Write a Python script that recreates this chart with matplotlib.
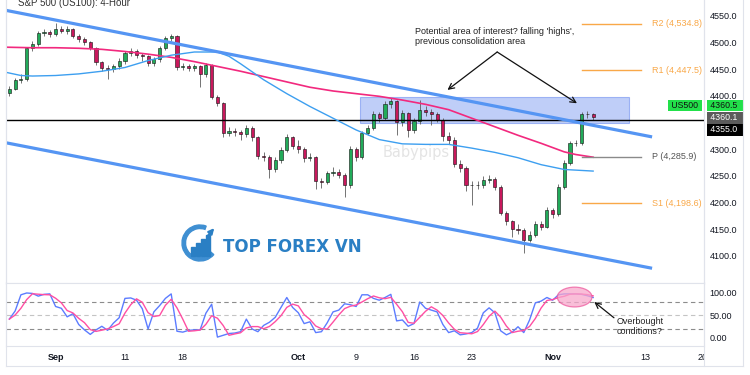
import numpy as np
import pandas as pd
import matplotlib
matplotlib.use('Agg')
import matplotlib.pyplot as plt
from matplotlib.patches import Rectangle, Ellipse, Wedge
from matplotlib.lines import Line2D

plt.rcParams['font.family'] = ['Liberation Sans', 'DejaVu Sans']

# 4h chart squeezed to two candles per trading day, day 0 = Sep 1
bar_start = -4.0
bar_step = 0.5

closes = [4413, 4430, 4432, 4489, 4497, 4518, 4520, 4516, 4526, 4522,
          4525, 4512, 4506, 4500, 4490, 4463, 4452, 4450, 4455, 4465,
          4480, 4484, 4476, 4474, 4461, 4468, 4490, 4508, 4512, 4454,
          4456, 4452, 4455, 4440, 4458, 4398, 4386, 4330, 4335, 4332,
          4328, 4340, 4322, 4288, 4285, 4262, 4280, 4298, 4322, 4306,
          4300, 4283, 4285, 4240, 4238, 4255, 4258, 4252, 4232, 4300,
          4285, 4330, 4340, 4365, 4358, 4385, 4390, 4350, 4368, 4336,
          4352, 4374, 4370, 4365, 4355, 4325, 4318, 4272, 4265, 4232,
          4232, 4232, 4242, 4244, 4230, 4180, 4165, 4150, 4148, 4130,
          4140, 4160, 4155, 4186, 4178, 4230, 4275, 4311, 4312, 4366,
          4365, 4360.5]
highs = [4418, 4434, 4440, 4492, 4503, 4522, 4526, 4524, 4536, 4530,
         4530, 4527, 4515, 4510, 4503, 4492, 4466, 4458, 4460, 4470,
         4484, 4490, 4488, 4480, 4477, 4472, 4494, 4512, 4516, 4514,
         4462, 4460, 4460, 4458, 4462, 4460, 4402, 4388, 4342, 4340,
         4336, 4345, 4343, 4325, 4294, 4290, 4285, 4304, 4328, 4325,
         4318, 4304, 4292, 4288, 4246, 4260, 4266, 4262, 4256, 4306,
         4304, 4334, 4345, 4372, 4370, 4390, 4395, 4392, 4374, 4370,
         4358, 4392, 4380, 4375, 4370, 4358, 4332, 4322, 4280, 4268,
         4240, 4240, 4250, 4252, 4248, 4232, 4184, 4168, 4160, 4152,
         4146, 4166, 4165, 4192, 4190, 4234, 4280, 4316, 4318, 4370,
         4372, 4368]
lows = [4400, 4410, 4424, 4428, 4484, 4494, 4512, 4510, 4512, 4517,
        4515, 4508, 4500, 4495, 4485, 4458, 4446, 4432, 4444, 4450,
        4460, 4474, 4470, 4466, 4455, 4456, 4464, 4486, 4502, 4448,
        4448, 4446, 4447, 4417, 4436, 4394, 4380, 4322, 4324, 4325,
        4318, 4322, 4316, 4282, 4278, 4246, 4258, 4275, 4294, 4300,
        4292, 4276, 4278, 4225, 4228, 4234, 4250, 4246, 4210, 4228,
        4278, 4282, 4326, 4336, 4350, 4354, 4378, 4326, 4344, 4322,
        4330, 4348, 4362, 4345, 4350, 4315, 4310, 4266, 4258, 4222,
        4195, 4225, 4228, 4236, 4224, 4176, 4158, 4136, 4142, 4105,
        4126, 4136, 4148, 4152, 4172, 4174, 4226, 4270, 4306, 4308,
        4358, 4354]
first_open = 4405

stoch_k = [42, 60, 96, 100, 99, 93, 97, 98, 70, 66,
           47, 54, 30, 18, 8, 18, 26, 17, 33, 45,
           88, 89, 84, 65, 20, 58, 72, 88, 98, 15,
           13, 17, 18, 18, 55, 75, 2, 6, 10, 11,
           14, 42, 20, 14, 28, 35, 46, 68, 90, 68,
           56, 32, 36, 12, 14, 34, 58, 62, 76, 74,
           70, 96, 96, 88, 84, 90, 97, 38, 40, 26,
           32, 80, 66, 62, 58, 30, 12, 16, 7, 9,
           12, 22, 56, 67, 56, 16, 7, 13, 25, 12,
           40, 78, 82, 90, 84, 96, 98, 98, 98, 97,
           94, 90]

# moving averages, read at chosen days
slow_days = [-4.3, -2, 0, 2, 4, 6, 8, 10, 12, 14, 16, 18, 20, 22, 24, 26,
             28, 30, 32, 34, 36, 38, 40, 42, 44, 45, 46.5]
slow_ma = [4491, 4490, 4490, 4489, 4487, 4483, 4478, 4472, 4464, 4455, 4446,
           4436, 4426, 4416, 4409, 4404, 4399, 4392, 4384, 4374, 4358, 4342,
           4326, 4311, 4295, 4290, 4285]
fast_days = [-4.3, -3, -2, 0, 2, 4, 6, 8, 10, 12, 14, 15, 16, 17, 18, 20, 22,
             24, 26, 28, 30, 32, 34, 36, 38, 40, 42, 44, 46.5]
fast_ma = [4444, 4438, 4437, 4438, 4441, 4446, 4453, 4466, 4476, 4482, 4482,
           4474, 4460, 4445, 4430, 4404, 4380, 4358, 4336, 4318, 4310, 4309,
           4309, 4302, 4294, 4284, 4271, 4262, 4259]

tick_days = [0, 6, 11, 21, 26, 31, 36, 43, 51, 56]
tick_labels = ['Sep', '11', '18', 'Oct', '9', '16', '23', 'Nov', '13', '20']

price_ticks = [4100, 4150, 4200, 4250, 4300, 4350, 4400, 4450, 4500, 4550]

pivot_names = ['R2', 'R1', 'P', 'S1']
pivot_values = [4534.8, 4447.5, 4285.9, 4198.6]
pivot_colors = ['#f9a848', '#f9a848', '#8a8a8a', '#f9a848']

last_price = 4360.5
bid_price = 4360.1
level_price = 4355.0

# ---------------------------------------------------------------
W, H = 750, 375
fig = plt.figure(figsize=(7.5, 3.75), dpi=100)
fig.patch.set_facecolor('white')

grid_c = '#e0e3eb'
txt_c = '#131722'

ax = fig.add_axes([6 / W, 1 - 283 / H, 698 / W, 283 / H])
ax2 = fig.add_axes([6 / W, 1 - 346 / H, 698 / W, 63 / H])

for a in (ax, ax2):
    a.set_xlim(-4.29, 56.09)
    for s in a.spines.values():
        s.set_color(grid_c)
        s.set_linewidth(0.8)
    a.yaxis.tick_right()
    a.tick_params(axis='y', length=0, pad=4, labelsize=6.5, colors=txt_c)
ax.spines['top'].set_visible(False)

ax.set_ylim(4049.4, 4579.4)
ax.set_yticks(price_ticks)
# 4350 sits under the price tags, so it is left blank as in the source chart
ax.set_yticklabels(['' if v == 4350 else '%.1f' % v for v in price_ticks])
ax.set_xticks([])

# candles
x = bar_start + bar_step * np.arange(len(closes))
c = np.array(closes, dtype=float)
o = np.concatenate([[first_open], c[:-1]])
up = c >= o
body = np.where(np.abs(c - o) < 1, 1, c - o)
ax.vlines(x, lows, highs, color='#5d5d5d', lw=0.6, zorder=3)
ax.bar(x, body, bottom=o, width=0.27, color=np.where(up, '#22ab5a', '#c8185c'),
       edgecolor='#111111', linewidth=0.4, zorder=4)

# consolidation box
ax.add_patch(Rectangle((26.3, 4349), 23.3, 49, facecolor='#95aef4', alpha=0.6,
                       edgecolor='#6f8ff0', lw=0.8, zorder=2))

# horizontal level
ax.axhline(level_price, color='black', lw=1.0, zorder=5)

# moving averages
ax.plot(slow_days, slow_ma, color='#f2297e', lw=1.2, zorder=5)
ax.plot(fast_days, fast_ma, color='#3d9ff0', lw=1.0, zorder=5)

# trend channel
ax.plot([-4.29, 51.6], [4560, 4323], color='#5595f3', lw=2.3,
        solid_capstyle='butt', zorder=6)
ax.plot([-4.29, 51.6], [4312, 4077], color='#5595f3', lw=2.3,
        solid_capstyle='butt', zorder=6)

# pivot levels
for name, val, col in zip(pivot_names, pivot_values, pivot_colors):
    ax.plot([45.5, 50.6], [val, val], color=col, lw=1.0, zorder=5)
    tcol = '#555555' if name == 'P' else col
    ax.text(51.6, val, '%s (%s)' % (name, format(val, ',.1f')), color=tcol,
            fontsize=6.5, va='center', ha='left', zorder=6)

# watermarks
ax.text(28.3, 4293, 'Babypips', fontsize=10.5, color='#e4e4e4',
        family='DejaVu Sans', va='center', ha='left', zorder=1)
ax.text(14.5, 4117, 'TOP FOREX VN', fontsize=12, fontweight='bold',
        color='#2a7fc4', family='DejaVu Sans', va='center', ha='left', zorder=7)

# annotation
ax.text(31.1, 4528, "Potential area of interest? falling 'highs',\nprevious consolidation area",
        fontsize=6.5, color='#222222', va='top', ha='left', linespacing=1.15, zorder=8)
for tx, ty in [(33.9, 4411), (45.1, 4386)]:
    ax.annotate('', xy=(tx, ty), xytext=(38.2, 4482),
                arrowprops=dict(arrowstyle='->', color='#111111', lw=0.9,
                                mutation_scale=10, shrinkA=0, shrinkB=0), zorder=8)

# price labels on the right axis
def price_tag(ypos, label, fc, tc):
    ax.text(1.006, ypos, label, transform=ax.get_yaxis_transform(), fontsize=6.3,
            color=tc, va='center', ha='left', zorder=10, clip_on=False,
            bbox=dict(boxstyle='square,pad=0.12', fc=fc, ec='none'))

price_tag(4381, ' %.1f  ' % last_price, '#22e04a', '#111111')
price_tag(4358.5, ' %.1f  ' % bid_price, '#5b5b5b', 'white')
price_tag(4336, ' %.1f  ' % level_price, '#000000', 'white')
ax.text(0.995, 4381, ' US500 ', transform=ax.get_yaxis_transform(), fontsize=6.3,
        color='#111111', va='center', ha='right', zorder=10,
        bbox=dict(boxstyle='square,pad=0.12', fc='#22e04a', ec='none'))

# stochastic panel
k = np.array(stoch_k, dtype=float)
d = pd.Series(k).rolling(3, min_periods=1).mean().values
ax2.set_ylim(-17.8, 122.2)
ax2.set_yticks([0, 50, 100])
ax2.set_yticklabels(['0.00', '50.00', '100.00'])
for lvl, col in [(80, '#8c8c8c'), (50, '#c4c4c4'), (20, '#8c8c8c')]:
    ax2.axhline(lvl, color=col, lw=0.8, ls=(0, (4, 3)), zorder=1)
ax2.plot(x, k, color='#5c7cff', lw=1.0, zorder=3)
ax2.plot(x, d, color='#ff4fa3', lw=1.0, zorder=4)
ax2.add_patch(Ellipse((44.9, 91), 3.0, 44, facecolor='#f7a8cc', alpha=0.75,
                      edgecolor='#ee5a9e', lw=0.9, zorder=5))
ax2.annotate('', xy=(46.6, 80), xytext=(48.3, 45),
             arrowprops=dict(arrowstyle='->', color='#111111', lw=0.9,
                             mutation_scale=10, shrinkA=0, shrinkB=0), zorder=6)
ax2.text(48.5, 47, 'Overbought\nconditions?', fontsize=6.5, color='#222222',
         va='top', ha='left', linespacing=1.1, zorder=6, clip_on=False)

ax2.set_xticks(tick_days)
ax2.set_xticklabels(tick_labels)
ax2.tick_params(axis='x', length=0, pad=5, labelsize=6.5, colors=txt_c)
clip = Rectangle((0, 0), 704 / W, 1, transform=fig.transFigure, visible=False)
fig.add_artist(clip)
for lbl in ax2.get_xticklabels():
    if lbl.get_text() in ('Sep', 'Oct', 'Nov'):
        lbl.set_fontweight('bold')
    lbl.set_clip_path(clip)

# outer frame
fig.add_artist(Line2D([6 / W, 743 / W], [1 - 366 / H, 1 - 366 / H], color=grid_c, lw=0.8))
fig.add_artist(Line2D([743 / W, 743 / W], [1 - 366 / H, 1], color=grid_c, lw=0.8))
fig.add_artist(Line2D([704 / W, 704 / W], [1 - 366 / H, 1], color=grid_c, lw=0.8))
fig.add_artist(Line2D([6 / W, 6 / W], [1 - 366 / H, 1], color=grid_c, lw=0.8))

# logo mark
lg = fig.add_axes([180 / W, 1 - 264 / H, 42 / W, 42 / H])
lg.set_xlim(0, 42)
lg.set_ylim(0, 42)
lg.axis('off')
lg.add_patch(Wedge((20, 21), 18, 70, 320, width=3.5, color='#3f8fd2'))
for bx, bh in zip([11, 16, 21, 26], [9, 13, 17, 21]):
    lg.add_patch(Rectangle((bx, 8), 3.5, bh, color='#2a7fc4'))
lg.annotate('', xy=(36, 38), xytext=(26, 26),
            arrowprops=dict(arrowstyle='-|>', color='#2a7fc4', lw=1.5, mutation_scale=8))

fig.text(18 / W, 1 - 3.5 / H, 'S&P 500 (US100): 4-Hour', fontsize=7, color='#333333',
         va='center', ha='left')

fig.savefig('out.png', dpi=100)
